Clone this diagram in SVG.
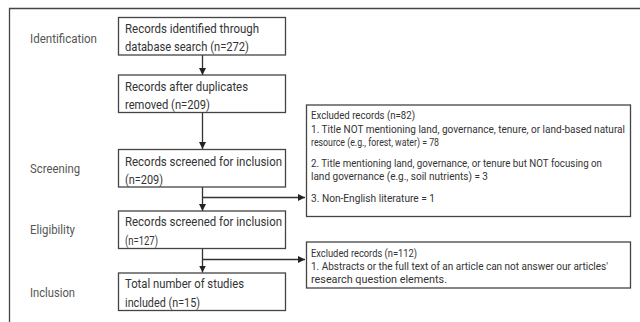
<svg xmlns="http://www.w3.org/2000/svg" width="640" height="322" viewBox="0 0 640 322">
<style>
.box{fill:#fff;stroke:#444;stroke-width:1.3}
.t{font-family:Roboto,"Liberation Sans",sans-serif;font-size:13px;fill:#333}
.lab{font-family:Roboto,"Liberation Sans",sans-serif;font-size:12.5px;fill:#555}
.s{font-family:Roboto,"Liberation Sans",sans-serif;font-size:10.5px;fill:#333}
.ln{stroke:#333;stroke-width:1.3;fill:none}
</style>
<defs>
<marker id="ah" viewBox="0 0 10 10" refX="10" refY="5" markerWidth="7" markerHeight="7" markerUnits="userSpaceOnUse" orient="auto"><path d="M0,0 L10,5 L0,10 z" fill="#222"/></marker>
</defs>
<rect x="0" y="0" width="640" height="322" fill="#fff"/>
<path d="M9.5,330 V8.5 H650" fill="none" stroke="#444" stroke-width="1.3"/>
<g id="labels">
<text class="lab" x="30" y="43" textLength="67" lengthAdjust="spacingAndGlyphs">Identification</text>
<text class="lab" x="30" y="173" textLength="50" lengthAdjust="spacingAndGlyphs">Screening</text>
<text class="lab" x="30" y="234" textLength="45" lengthAdjust="spacingAndGlyphs">Eligibility</text>
<text class="lab" x="30" y="297" textLength="45" lengthAdjust="spacingAndGlyphs">Inclusion</text>
</g>
<g id="connectors">
<line class="ln" x1="202.5" y1="55" x2="202.5" y2="75" marker-end="url(#ah)"/>
<line class="ln" x1="202.5" y1="112" x2="202.5" y2="149" marker-end="url(#ah)"/>
<line class="ln" x1="202.5" y1="187" x2="202.5" y2="211" marker-end="url(#ah)"/>
<line class="ln" x1="202.5" y1="197.5" x2="305" y2="197.5" marker-end="url(#ah)"/>
<line class="ln" x1="202.5" y1="248" x2="202.5" y2="272.5" marker-end="url(#ah)"/>
<line class="ln" x1="202.5" y1="259.5" x2="305" y2="259.5" marker-end="url(#ah)"/>
</g>
<g id="n1">
<rect class="box" x="118.5" y="17.5" width="167" height="37.5"/>
<text class="t" x="125" y="33" textLength="134" lengthAdjust="spacingAndGlyphs">Records identified through</text>
<text class="t" x="125" y="51" textLength="124" lengthAdjust="spacingAndGlyphs">database search (n=272)</text>
</g>
<g id="n2">
<rect class="box" x="118.5" y="75" width="167" height="37.5"/>
<text class="t" x="125" y="90.5" textLength="123" lengthAdjust="spacingAndGlyphs">Records after duplicates</text>
<text class="t" x="125" y="108.5" textLength="85" lengthAdjust="spacingAndGlyphs">removed (n=209)</text>
</g>
<g id="n3">
<rect class="box" x="118.5" y="149.5" width="167" height="37.5"/>
<text class="t" x="125" y="166" textLength="157" lengthAdjust="spacingAndGlyphs">Records screened for inclusion</text>
<text class="t" x="125" y="184" textLength="38" lengthAdjust="spacingAndGlyphs">(n=209)</text>
</g>
<g id="n4">
<rect class="box" x="118.5" y="211" width="167" height="37.5"/>
<text class="t" x="125" y="226" textLength="157" lengthAdjust="spacingAndGlyphs">Records screened for inclusion</text>
<text class="t" x="125" y="244.5" textLength="33" lengthAdjust="spacingAndGlyphs">(n=127)</text>
</g>
<g id="n5">
<rect class="box" x="118.5" y="273" width="167" height="37.5"/>
<text class="t" x="125" y="288" textLength="119" lengthAdjust="spacingAndGlyphs">Total number of studies</text>
<text class="t" x="125" y="307" textLength="75" lengthAdjust="spacingAndGlyphs">included (n=15)</text>
</g>
<g id="ex1">
<rect class="box" x="306.5" y="105" width="324" height="111.5"/>
<text class="s" x="311" y="119" textLength="104" lengthAdjust="spacingAndGlyphs">Excluded records (n=82)</text>
<text class="s" x="311" y="132.5" textLength="314" lengthAdjust="spacingAndGlyphs">1. Title NOT mentioning land, governance, tenure, or land-based natural</text>
<text class="s" x="311" y="146" textLength="128" lengthAdjust="spacingAndGlyphs">resource (e.g., forest, water) = 78</text>
<text class="s" x="311" y="166.5" textLength="291" lengthAdjust="spacingAndGlyphs">2. Title mentioning land, governance, or tenure but NOT focusing on</text>
<text class="s" x="311" y="180" textLength="177" lengthAdjust="spacingAndGlyphs">land governance (e.g., soil nutrients) = 3</text>
<text class="s" x="311" y="201.5" textLength="124" lengthAdjust="spacingAndGlyphs">3. Non-English literature = 1</text>
</g>
<g id="ex2">
<rect class="box" x="306.5" y="242" width="324" height="46"/>
<text class="s" x="311" y="256.5" textLength="106" lengthAdjust="spacingAndGlyphs">Excluded records (n=112)</text>
<text class="s" x="311" y="269.5" textLength="297" lengthAdjust="spacingAndGlyphs">1. Abstracts or the full text of an article can not answer our articles'</text>
<text class="s" x="311" y="282.5" textLength="136" lengthAdjust="spacingAndGlyphs">research question elements.</text>
</g>
</svg>
